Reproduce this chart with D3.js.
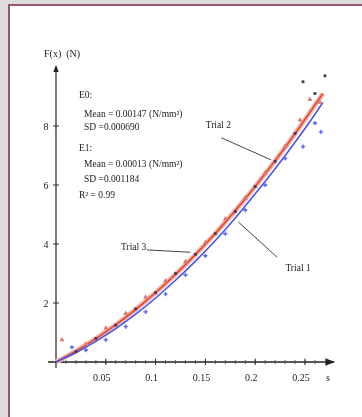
<!DOCTYPE html>
<html>
<head>
<meta charset="utf-8">
<script src="https://cdn.jsdelivr.net/npm/d3@7"></script>
<style>
  html, body { margin: 0; padding: 0; background: #dcdcdc; }
  svg { display: block; }
  text { font-family: "Liberation Serif", "DejaVu Serif", serif; fill: #222; }
</style>
</head>
<body>
<script>
const width = 362;
const height = 417;

// fitted curves
const fitX = [0, 0.02, 0.04, 0.06, 0.08, 0.1, 0.12, 0.14, 0.16, 0.18, 0.2, 0.22, 0.24, 0.26, 0.268];
const fitTrial2 = [0, 0.37, 0.79, 1.26, 1.78, 2.35, 2.97, 3.64, 4.36, 5.13, 5.95, 6.82, 7.74, 8.71, 9.1];
const fitTrial1 = [0, 0.32, 0.7, 1.13, 1.62, 2.17, 2.77, 3.42, 4.12, 4.88, 5.7, 6.55, 7.45, 8.4, 8.8];

// measured points
const trial2X = [0.006, 0.03, 0.05, 0.07, 0.09, 0.11, 0.13, 0.15, 0.17, 0.19, 0.21, 0.23, 0.245, 0.255, 0.265];
const trial2F = [0.75, 0.6, 1.15, 1.65, 2.2, 2.75, 3.4, 4.05, 4.85, 5.55, 6.4, 7.3, 8.2, 8.9, 8.8];
const trial3X = [0.02, 0.04, 0.06, 0.08, 0.1, 0.12, 0.14, 0.16, 0.18, 0.2, 0.22, 0.24, 0.248, 0.26, 0.27];
const trial3F = [0.35, 0.8, 1.25, 1.8, 2.35, 3.0, 3.65, 4.35, 5.1, 5.95, 6.8, 7.75, 9.5, 9.1, 9.7];
const trial1X = [0.016, 0.03, 0.05, 0.07, 0.09, 0.11, 0.13, 0.15, 0.17, 0.19, 0.21, 0.23, 0.248, 0.26, 0.266];
const trial1F = [0.5, 0.4, 0.75, 1.2, 1.7, 2.3, 2.95, 3.6, 4.35, 5.15, 6.0, 6.9, 7.3, 8.1, 7.8];

const xTicks = [0.05, 0.1, 0.15, 0.2, 0.25];
const xTickLabels = ["0.05", "0.1", "0.15", "0.2", "0.25"];
const yTicks = [2, 4, 6, 8];

const statLines = [
  {t: "E0:", indent: 0, y: 9.1},
  {t: "Mean = 0.00147 (N/mm²)", indent: 1, y: 8.45},
  {t: "SD =0.000690", indent: 1, y: 8.0},
  {t: "E1:", indent: 0, y: 7.3},
  {t: "Mean = 0.00013 (N/mm²)", indent: 1, y: 6.75},
  {t: "SD =0.001184", indent: 1, y: 6.25},
  {t: "R² = 0.99", indent: 0, y: 5.7}
];

// trial labels: text position and leader end points, in data units
const trialLabels = [
  {name: "Trial 2", tx: 0.163, ty: 8.05, lx0: 0.166, ly0: 7.6, lx1: 0.216, ly1: 6.85},
  {name: "Trial 3", tx: 0.078, ty: 3.9, lx0: 0.091, ly0: 3.8, lx1: 0.135, ly1: 3.72},
  {name: "Trial 1", tx: 0.243, ty: 3.2, lx0: 0.222, ly0: 3.55, lx1: 0.183, ly1: 4.75}
];

const x = d3.scaleLinear().domain([0, 0.25]).range([56, 305]);
const y = d3.scaleLinear().domain([0, 8]).range([362, 126]);

const svg = d3.select("body").append("svg")
  .attr("width", width).attr("height", height)
  .style("filter", "blur(0.45px)");

svg.append("rect").attr("x", 0).attr("y", 0).attr("width", width).attr("height", height).attr("fill", "#dcdcdc");
svg.append("rect")
  .attr("x", 9).attr("y", 5).attr("width", width + 10).attr("height", height + 10)
  .attr("fill", "#fff").attr("stroke", "#7a2444").attr("stroke-width", 1.5);

svg.append("defs").append("marker")
  .attr("id", "arr").attr("viewBox", "0 0 10 10").attr("refX", 9).attr("refY", 5)
  .attr("markerWidth", 6).attr("markerHeight", 6).attr("orient", "auto")
  .append("path").attr("d", "M0,1 L10,5 L0,9 Z").attr("fill", "#222");

// axes
svg.append("line")
  .attr("x1", 48).attr("y1", y(0)).attr("x2", 334).attr("y2", y(0))
  .attr("stroke", "#222").attr("stroke-width", 1.6).attr("marker-end", "url(#arr)");
svg.append("line")
  .attr("x1", x(0)).attr("y1", 368).attr("x2", x(0)).attr("y2", 66)
  .attr("stroke", "#222").attr("stroke-width", 1.2).attr("marker-end", "url(#arr)");

const minor = d3.range(1, 27).map(i => i / 100);
svg.selectAll(".mt").data(minor).join("line")
  .attr("x1", d => x(d)).attr("x2", d => x(d))
  .attr("y1", y(0) - 2).attr("y2", y(0) + 2)
  .attr("stroke", "#444").attr("stroke-width", 0.8);
svg.selectAll(".xt").data(xTicks).join("line")
  .attr("x1", d => x(d)).attr("x2", d => x(d))
  .attr("y1", y(0) - 3.5).attr("y2", y(0) + 3)
  .attr("stroke", "#333").attr("stroke-width", 1);
svg.selectAll(".xl").data(xTicks).join("text")
  .attr("x", (d, i) => x(d) - 4).attr("y", 381)
  .attr("text-anchor", "middle").attr("font-size", 10)
  .text((d, i) => xTickLabels[i]);
svg.append("text").attr("x", 328).attr("y", 381).attr("text-anchor", "middle")
  .attr("font-size", 10).text("s");

svg.selectAll(".yt").data(yTicks).join("line")
  .attr("x1", x(0) - 3).attr("x2", x(0) + 3)
  .attr("y1", d => y(d)).attr("y2", d => y(d))
  .attr("stroke", "#333");
svg.selectAll(".yl").data(yTicks).join("text")
  .attr("x", 46).attr("y", d => y(d) + 4)
  .attr("text-anchor", "middle").attr("font-size", 10)
  .text(d => d);
svg.append("text").attr("x", 44).attr("y", 57).attr("font-size", 10)
  .attr("xml:space", "preserve").text("F(x)  (N)");

// fitted curves
const line = d3.line().x(d => x(d[0])).y(d => y(d[1])).curve(d3.curveMonotoneX);
svg.append("path").datum(fitX.map((v, i) => [v, fitTrial2[i]]))
  .attr("d", line).attr("fill", "none").attr("stroke", "#f3b8b0").attr("stroke-width", 5);
svg.append("path").datum(fitX.map((v, i) => [v, fitTrial2[i]]))
  .attr("d", line).attr("fill", "none").attr("stroke", "#d9503f").attr("stroke-width", 1.8);
svg.append("path").datum(fitX.map((v, i) => [v, fitTrial1[i]]))
  .attr("d", line).attr("fill", "none").attr("stroke", "#4a55e0").attr("stroke-width", 1.6);

// points
svg.selectAll(".p2").data(trial2X.map((v, i) => [v, trial2F[i]])).join("path")
  .attr("transform", d => `translate(${x(d[0])},${y(d[1])})`)
  .attr("d", d3.symbol(d3.symbolTriangle, 11)).attr("fill", "#d97a72");
svg.selectAll(".p3").data(trial3X.map((v, i) => [v, trial3F[i]])).join("rect")
  .attr("x", d => x(d[0]) - 1.4).attr("y", d => y(d[1]) - 1.4)
  .attr("width", 2.8).attr("height", 2.8).attr("fill", "#4a3a55");
svg.selectAll(".p1").data(trial1X.map((v, i) => [v, trial1F[i]])).join("path")
  .attr("transform", d => `translate(${x(d[0])},${y(d[1])})`)
  .attr("d", d3.symbol(d3.symbolCross, 10)).attr("fill", "#5a66e6");

// stats text
svg.selectAll(".st").data(statLines).join("text")
  .attr("x", d => 79 + d.indent * 5).attr("y", d => y(d.y) + 4)
  .attr("font-size", 9.5)
  .text(d => d.t);

// trial labels and leaders
svg.selectAll(".tl").data(trialLabels).join("text")
  .attr("x", d => x(d.tx)).attr("y", d => y(d.ty) + 3)
  .attr("text-anchor", "middle").attr("font-size", 9.5)
  .text(d => d.name);
svg.selectAll(".ll").data(trialLabels).join("line")
  .attr("x1", d => x(d.lx0)).attr("y1", d => y(d.ly0))
  .attr("x2", d => x(d.lx1)).attr("y2", d => y(d.ly1))
  .attr("stroke", "#444").attr("stroke-width", 1);
</script>
</body>
</html>
